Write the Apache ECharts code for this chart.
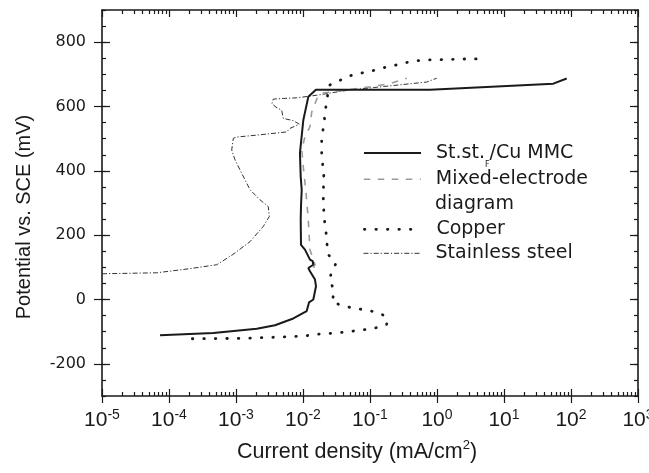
<!DOCTYPE html>
<html><head><meta charset="utf-8">
<script src="https://cdn.jsdelivr.net/npm/echarts@6/dist/echarts.min.js"></script>
<style>html,body{margin:0;padding:0;background:#fff}#c{width:649px;height:473px}</style>
</head><body><div id="c"></div>
<script>
// ---------- data (current density in mA/cm^2, potential in mV vs SCE) ----------
const seriesNames = ['St.st.F/Cu MMC', 'Mixed-electrode', 'Copper', 'Stainless steel'];

const mmcCurrent   = [7.35e-5, 4.58e-4, 2.04e-3, 3.82e-3, 7.16e-3, 0.01135, 0.0123, 0.01426, 0.01563, 0.0151, 0.0127, 0.0120, 0.01426, 0.01396, 0.0127, 0.0107, 0.00933, 0.00924, 0.00933, 0.00957, 0.00924, 0.0090, 0.0101, 0.0120, 0.0156, 0.787, 54.5, 86.3];
const mmcPotential = [-111, -104, -91, -80, -59, -36, -9, 0, 41, 62, 88, 98, 108, 119, 124, 155, 170, 248, 289, 341, 382, 455, 557, 630, 652, 652, 671, 687];

const mixedCurrent   = [0.0143, 0.0151, 0.01426, 0.0127, 0.0120, 0.0111, 0.0101, 0.0096, 0.0107, 0.0127, 0.0135, 0.0169, 0.0201, 0.1, 0.199, 0.353];
const mixedPotential = [98, 108, 124, 155, 248, 330, 413, 465, 506, 537, 583, 635, 642, 661, 671, 688];

const copperCurrent   = [2.23e-4, 1.22e-3, 0.0101, 0.016, 0.0239, 0.0356, 0.0752, 0.112, 0.155, 0.178, 0.173, 0.123, 0.0871, 0.0491, 0.0348, 0.0268, 0.029, 0.0277, 0.0247, 0.0268, 0.0308, 0.0259, 0.0239, 0.0231, 0.0226, 0.0221, 0.0213, 0.0208, 0.0201, 0.0201, 0.0206, 0.0197, 0.019, 0.019, 0.0197, 0.0208, 0.0218, 0.0226, 0.0247, 0.0337, 0.0474, 0.0668, 0.1, 0.141, 0.199, 0.274, 0.373, 0.544, 0.834, 1.24, 1.92, 2.93, 4.54];
const copperPotential = [-122, -121, -114, -108, -106, -103, -95, -90, -83, -77, -52, -39, -33, -24, -16, -5, 16, 39, 62, 85, 111, 132, 139, 157, 186, 207, 229, 253, 299, 341, 377, 418, 454, 495, 521, 557, 594, 619, 666, 679, 694, 702, 709, 718, 725, 731, 738, 743, 745, 746, 747, 748, 748];

const steelCurrent   = [1e-5, 6.55e-5, 2.06e-4, 5.15e-4, 9e-4, 1.62e-3, 2.55e-3, 3.14e-3, 3.03e-3, 2.28e-3, 1.62e-3, 1.22e-3, 9.67e-4, 8.63e-4, 9.12e-4, 1.02e-3, 2.04e-3, 5.71e-3, 6.4e-3, 8.81e-3, 7.16e-3, 5.08e-3, 4.81e-3, 3.95e-3, 3.44e-3, 3.61e-3, 5.08e-3, 8.05e-3, 0.016, 0.0449, 0.141, 0.701, 0.99];
const steelPotential = [80, 83, 96, 108, 140, 180, 227, 258, 289, 310, 341, 392, 434, 465, 501, 505, 511, 521, 532, 545, 556, 563, 588, 598, 609, 623, 625, 627, 635, 650, 661, 676, 688];

const xMin = 1e-5, xMax = 1e3;
const yMin = -300, yMax = 900;
const yTickLabels = [-200, 0, 200, 400, 600, 800];
const xDecadeExponents = [-5, -4, -3, -2, -1, 0, 1, 2];
const xMinorMultipliers = [2, 3, 4, 5, 6, 7, 8, 9];

// ---------- build ----------
const pairs = (xs, ys) => xs.map((v, k) => [v, ys[k]]);
const xMinorExp = [];
xDecadeExponents.forEach(d => xMinorMultipliers.forEach(m => xMinorExp.push(d + Math.log10(m))));

const INK = '#1a1a1a';
const axisLineStyle = { color: INK, width: 1.6 };
const tickLine = { color: INK, width: 1.2 };
const noSplit = { show: false };

const chart = echarts.init(document.getElementById('c'), null, { renderer: 'canvas' });

const legendText = {
  fontFamily: 'DejaVu Sans', fontSize: 19, color: INK, lineHeight: 22, padding: [0, 0, 0, 10],
  rich: {
    a: { fontFamily: 'DejaVu Sans', fontSize: 19, color: INK, lineHeight: 22 },
    f: { fontFamily: 'DejaVu Sans', fontSize: 8, color: INK, lineHeight: 8, verticalAlign: 'top', padding: [19, 0, 0, 0] }
  }
};
const legendFormatter = name => {
  if (name === seriesNames[0]) return '{a|St.st.}{f|F}{a|/Cu MMC}';
  return '{a|' + name + '}';
};
const legendTops = [142.0, 168.3, 218.3, 242.3];
const makeLegend = (name, top) => ({
  data: [name], orient: 'vertical', left: 363, top: top, padding: 0,
  itemWidth: 57, itemHeight: 14, itemGap: 0, textStyle: legendText, formatter: legendFormatter,
  lineStyle: { width: 'inherit' }, itemStyle: { opacity: 0 }, selectedMode: false
});

chart.setOption({
  animation: false,
  backgroundColor: '#fff',
  grid: { left: 102, right: 11, top: 10, bottom: 77, containLabel: false, outerBoundsMode: 'none' },
  xAxis: [
    {
      type: 'log', logBase: 10, min: xMin, max: xMax, position: 'bottom',
      axisLine: { show: true, onZero: false, lineStyle: axisLineStyle },
      axisTick: { show: true, inside: false, length: 7, lineStyle: tickLine },
      axisLabel: {
        margin: 12, color: INK,
        formatter: v => '{b|10}{s|' + Math.round(Math.log10(v)) + '}',
        rich: {
          b: { fontFamily: 'Liberation Sans', fontSize: 21, color: INK, lineHeight: 24 },
          s: { fontFamily: 'Liberation Sans', fontSize: 14, color: INK, lineHeight: 12, verticalAlign: 'top' }
        }
      },
      splitLine: noSplit, minorTick: { show: false },
      name: '{t|Current density (mA/cm}{p|2}{t|)}',
      nameLocation: 'middle', nameGap: 43,
      nameTextStyle: {
        padding: [0, 26, 0, 0],
        rich: {
          t: { fontFamily: 'Liberation Sans', fontSize: 21.5, color: INK, lineHeight: 26 },
          p: { fontFamily: 'Liberation Sans', fontSize: 13, color: INK, lineHeight: 12, verticalAlign: 'top' }
        }
      }
    },
    {
      type: 'log', logBase: 10, min: xMin, max: xMax, position: 'bottom',
      axisLine: { show: false, onZero: false },
      axisTick: { show: true, inside: true, length: 7, lineStyle: tickLine },
      axisLabel: { show: false }, splitLine: noSplit
    },
    {
      type: 'value', min: -5, max: 3, position: 'bottom',
      axisLine: { show: false, onZero: false },
      axisTick: { show: true, inside: true, length: 4, lineStyle: tickLine, customValues: xMinorExp },
      axisLabel: { show: false }, splitLine: noSplit
    },
    {
      type: 'log', logBase: 10, min: xMin, max: xMax, position: 'top',
      axisLine: { show: true, onZero: false, lineStyle: axisLineStyle },
      axisTick: { show: true, inside: true, length: 7, lineStyle: tickLine },
      axisLabel: { show: false }, splitLine: noSplit
    },
    {
      type: 'value', min: -5, max: 3, position: 'top',
      axisLine: { show: false, onZero: false },
      axisTick: { show: true, inside: true, length: 4, lineStyle: tickLine, customValues: xMinorExp },
      axisLabel: { show: false }, splitLine: noSplit
    }
  ],
  yAxis: [
    {
      type: 'value', min: yMin, max: yMax, position: 'left',
      axisLine: { show: true, onZero: false, lineStyle: axisLineStyle },
      axisTick: { show: true, inside: false, length: 8, lineStyle: tickLine, customValues: yTickLabels },
      axisLabel: { customValues: yTickLabels, margin: 16, fontFamily: 'DejaVu Sans', fontSize: 16, color: INK },
      splitLine: noSplit,
      name: 'Potential vs. SCE (mV)', nameLocation: 'middle', nameGap: 66,
      nameTextStyle: { fontFamily: 'Liberation Sans', fontSize: 20, color: INK, lineHeight: 24, padding: [0, 28, 0, 0] }
    },
    {
      type: 'value', min: yMin, max: yMax, position: 'left',
      axisLine: { show: false, onZero: false },
      axisTick: { show: true, inside: true, length: 8, lineStyle: tickLine, customValues: yTickLabels },
      axisLabel: { show: false }, splitLine: noSplit
    },
    {
      type: 'value', min: yMin, max: yMax, interval: 50, position: 'left',
      axisLine: { show: false, onZero: false },
      axisTick: { show: true, inside: true, length: 4, lineStyle: tickLine },
      axisLabel: { show: false }, splitLine: noSplit
    },
    {
      type: 'value', min: yMin, max: yMax, position: 'right',
      axisLine: { show: true, onZero: false, lineStyle: axisLineStyle },
      axisTick: { show: true, inside: true, length: 8, lineStyle: tickLine, customValues: yTickLabels },
      axisLabel: { show: false }, splitLine: noSplit
    },
    {
      type: 'value', min: yMin, max: yMax, interval: 50, position: 'right',
      axisLine: { show: false, onZero: false },
      axisTick: { show: true, inside: true, length: 4, lineStyle: tickLine },
      axisLabel: { show: false }, splitLine: noSplit
    }
  ],
  legend: seriesNames.map((n, k) => makeLegend(n, legendTops[k])),
  graphic: [
    { type: 'text', x: 435, y: 204, silent: true,
      style: { text: 'diagram', font: '19px "DejaVu Sans"', fill: INK, verticalAlign: 'middle', textVerticalAlign: 'middle' } }
  ],
  series: [
    { name: seriesNames[3], type: 'line', xAxisIndex: 0, yAxisIndex: 0, symbol: 'none', z: 2,
      lineStyle: { color: '#333', width: 1, type: [5, 2, 1.2, 2] }, itemStyle: { color: '#333' },
      data: pairs(steelCurrent, steelPotential) },
    { name: seriesNames[2], type: 'line', xAxisIndex: 0, yAxisIndex: 0, symbol: 'none', z: 3,
      lineStyle: { color: INK, width: 2.8, type: [0.5, 11], cap: 'round' }, itemStyle: { color: INK },
      data: pairs(copperCurrent, copperPotential) },
    { name: seriesNames[1], type: 'line', xAxisIndex: 0, yAxisIndex: 0, symbol: 'none', z: 4,
      lineStyle: { color: '#9a9a9a', width: 1.6, type: [6.5, 7.5] }, itemStyle: { color: '#9a9a9a' },
      data: pairs(mixedCurrent, mixedPotential) },
    { name: seriesNames[0], type: 'line', xAxisIndex: 0, yAxisIndex: 0, symbol: 'none', z: 5,
      lineStyle: { color: INK, width: 2 }, itemStyle: { color: INK },
      data: pairs(mmcCurrent, mmcPotential) }
  ]
});
</script>
</body></html>
